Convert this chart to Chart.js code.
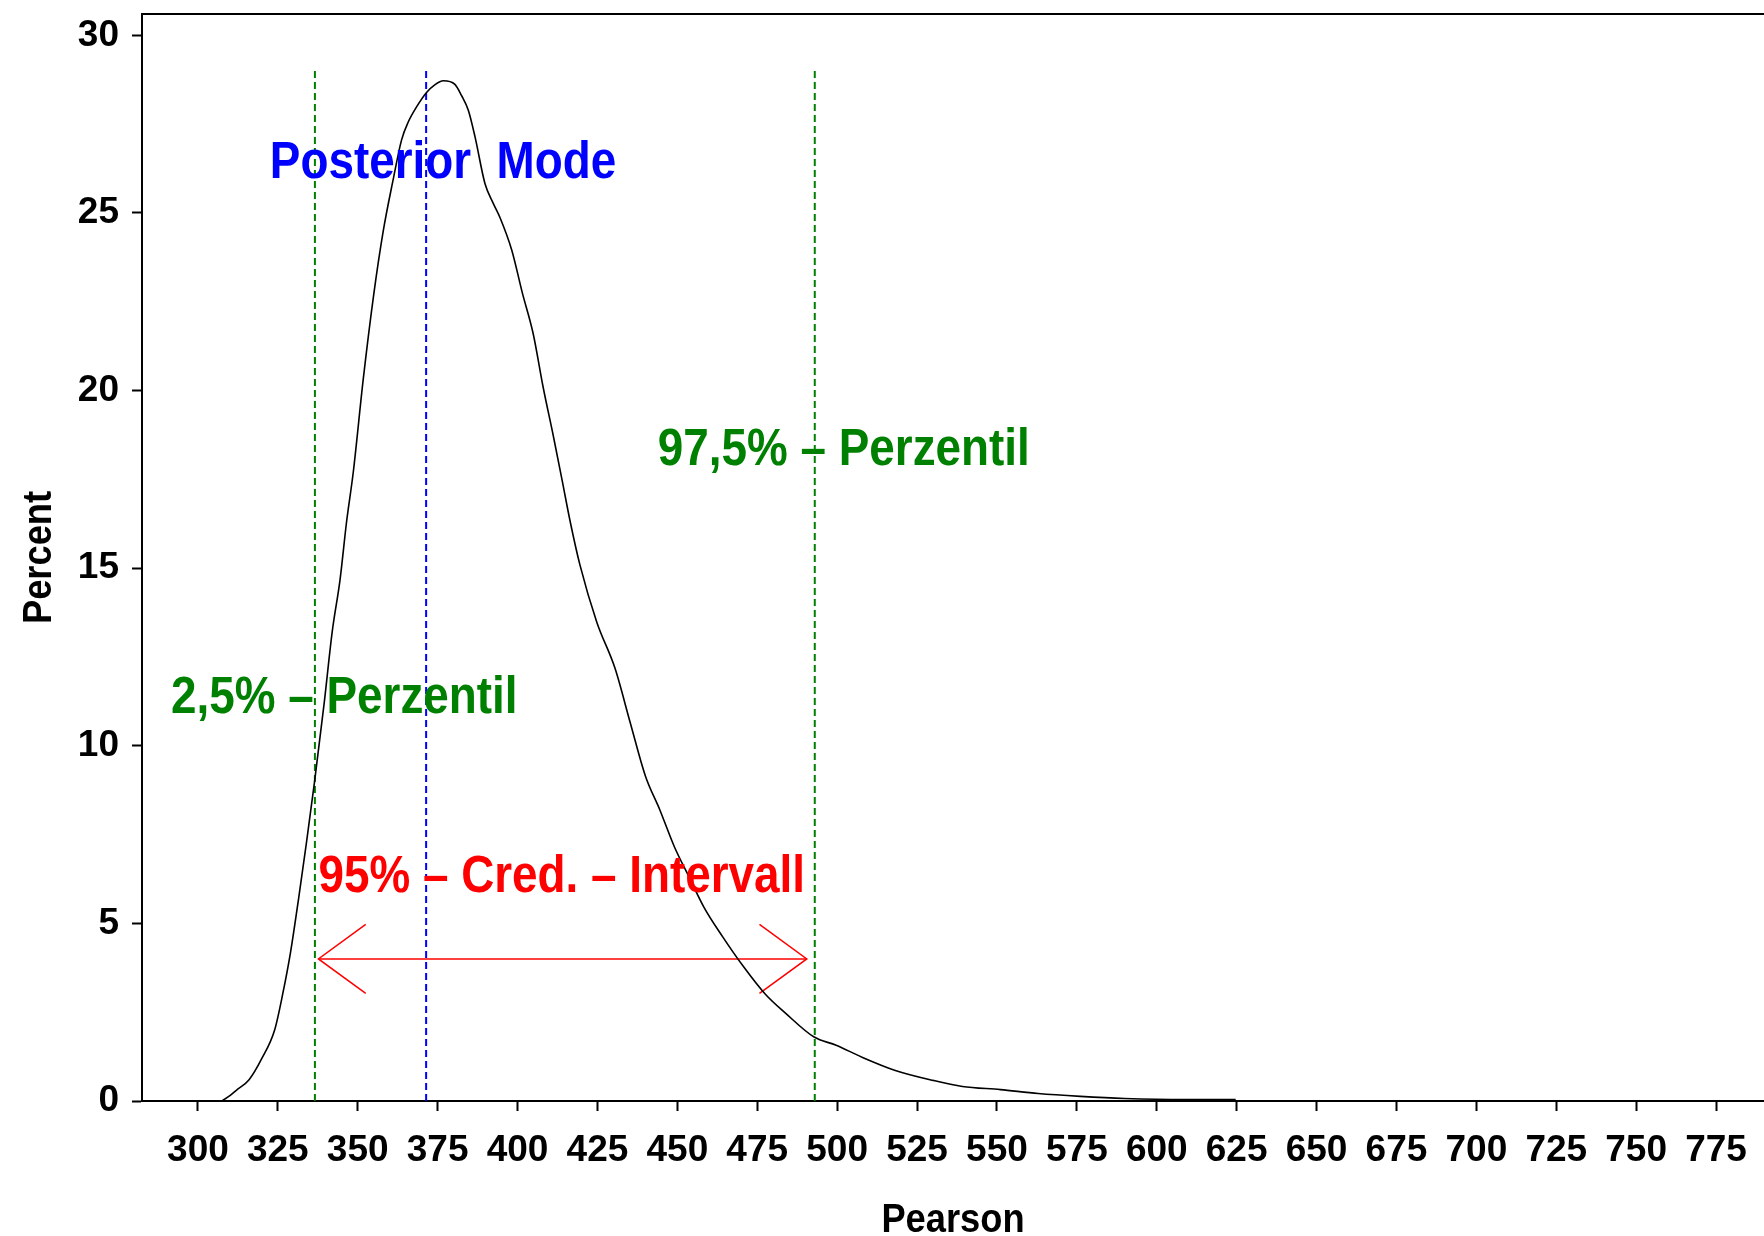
<!DOCTYPE html>
<html>
<head>
<meta charset="utf-8">
<script src="https://cdn.jsdelivr.net/npm/chart.js@4.4.1/dist/chart.umd.min.js"></script>
<style>
  html, body { margin: 0; padding: 0; background: #fff; }
  #wrap { width: 1764px; height: 1236px; position: relative; }
</style>
</head>
<body>
<div id="wrap"><canvas id="posteriorChart"></canvas></div>
<script>
// density curve
const pearson = [307.5, 310, 312, 316, 320, 324, 326.5, 329, 331.5, 334, 336.5, 339.5, 342, 344.5, 346.5,
    348.6, 351.7, 355, 358, 361, 363.7, 365.8, 368.5, 371.6, 374, 376.8, 380.4, 382.5, 384.6, 386.7,
    389.8, 392.4, 394.5, 398.2, 401.5, 404.9, 408, 411.2, 414, 416.5, 419.5, 424.8, 430.5, 435.2, 440,
    444.5, 449.1, 453.7, 458.3, 464.2, 470.8, 477.4, 484, 492.8, 499.7, 507.6, 518.2, 530, 539.2, 551.1,
    562.9, 576.1, 589.9, 608.9, 624.7];
const percent = [0, 0.15, 0.3, 0.6, 1.2, 2.0, 3.0, 4.2, 5.7, 7.3, 9.0, 11.2, 13.2, 14.7, 16.3,
    17.7, 20.3, 22.7, 24.5, 25.9, 27.05, 27.56, 28.0, 28.4, 28.6, 28.72, 28.62, 28.3, 27.89, 27.14,
    25.83, 25.27, 24.87, 23.95, 22.75, 21.6, 20.1, 18.72, 17.45, 16.3, 15.1, 13.48, 12.18, 10.67, 9.15,
    8.2, 7.15, 6.3, 5.46, 4.62, 3.77, 3.02, 2.46, 1.8, 1.57, 1.24, 0.86, 0.58, 0.41, 0.32,
    0.21, 0.13, 0.07, 0.04, 0.04];

const xTicks = [300, 325, 350, 375, 400, 425, 450, 475, 500, 525, 550, 575, 600, 625, 650, 675, 700, 725, 750, 775];
const yTicks = [0, 5, 10, 15, 20, 25, 30];

// reference lines
const lowerPercentile = 336.6;
const posteriorMode = 371.4;
const upperPercentile = 493.0;
const refLineTop = 29;

// credible interval arrow
const arrowY = 4;
const arrowLeft = 337.7;
const arrowRight = 490.5;
const arrowHeadX = 14.8;
const arrowHeadY = 0.97;

// annotations
const noteTexts = ['Posterior  Mode', '97,5% \u2013 Perzentil', '2,5% \u2013 Perzentil', '95% \u2013 Cred. \u2013 Intervall'];
const noteX = [322.5, 443.9, 291.6, 337.7];
const noteY = [26.5, 18.42, 11.43, 6.41];
const noteColors = ['#0000ff', '#008000', '#008000', '#ff0000'];

const FONT = "'Liberation Sans', Arial, sans-serif";

function vline(x, color) {
    return {
        data: [{x: x, y: 0}, {x: x, y: refLineTop}],
        borderColor: color,
        borderWidth: 2,
        borderDash: [7, 4],
        pointRadius: 0,
        tension: 0
    };
}

function redLine(points) {
    return {
        data: points,
        borderColor: '#ff0000',
        borderWidth: 1.5,
        pointRadius: 0,
        tension: 0
    };
}

// squeezed bold text, the original font is narrower and taller than Arial
function drawText(ctx, text, x, y, color, size, rotate) {
    ctx.save();
    ctx.translate(x, y);
    if (rotate) ctx.rotate(-Math.PI / 2);
    ctx.scale(0.955, 1.07);
    ctx.font = 'bold ' + size + 'px ' + FONT;
    ctx.fillStyle = color;
    ctx.textBaseline = 'alphabetic';
    ctx.fillText(text, 0, 0.358 * size);
    ctx.restore();
}

const framePlugin = {
    id: 'frame',
    afterDraw(chart) {
        const ctx = chart.ctx;
        const area = chart.chartArea;
        const xs = chart.scales.x;
        const ys = chart.scales.y;
        ctx.save();
        ctx.strokeStyle = '#000';
        ctx.lineWidth = 2;
        ctx.beginPath();
        ctx.moveTo(area.left - 1, area.top);
        ctx.lineTo(area.right, area.top);
        ctx.stroke();

        ctx.textAlign = 'left';
        noteTexts.forEach(function (t, i) {
            drawText(ctx, t, xs.getPixelForValue(noteX[i]), ys.getPixelForValue(noteY[i]), noteColors[i], 48, false);
        });

        // axis titles
        ctx.textAlign = 'center';
        drawText(ctx, 'Pearson', (area.left + area.right) / 2, area.bottom + 116, '#000', 38, false);
        drawText(ctx, 'Percent', 36, (area.top + area.bottom) / 2, '#000', 38, true);
        ctx.restore();
    }
};

const ctx = document.getElementById('posteriorChart');
new Chart(ctx, {
    type: 'line',
    data: {
        datasets: [
            {
                data: pearson.map(function (v, i) { return {x: v, y: percent[i]}; }),
                borderColor: '#000',
                borderWidth: 1.6,
                pointRadius: 0,
                cubicInterpolationMode: 'monotone'
            },
            vline(lowerPercentile, '#008000'),
            vline(posteriorMode, '#0000ff'),
            vline(upperPercentile, '#008000'),
            redLine([{x: arrowLeft, y: arrowY}, {x: arrowRight, y: arrowY}]),
            redLine([{x: arrowLeft + arrowHeadX, y: arrowY + arrowHeadY}, {x: arrowLeft, y: arrowY}, {x: arrowLeft + arrowHeadX, y: arrowY - arrowHeadY}]),
            redLine([{x: arrowRight - arrowHeadX, y: arrowY + arrowHeadY}, {x: arrowRight, y: arrowY}, {x: arrowRight - arrowHeadX, y: arrowY - arrowHeadY}])
        ]
    },
    options: {
        responsive: true,
        maintainAspectRatio: false,
        animation: false,
        layout: { padding: { top: 14, right: 0, left: 0, bottom: 0 } },
        plugins: {
            legend: { display: false },
            tooltip: { enabled: false }
        },
        scales: {
            x: {
                type: 'linear',
                min: 282.5,
                max: 790,
                afterBuildTicks: function (scale) {
                    scale.ticks = xTicks.map(function (v) { return {value: v}; });
                },
                afterFit: function (scale) {
                    scale.height = 135;
                    scale.paddingLeft = 0;
                    scale.paddingRight = 0;
                },
                grid: { drawOnChartArea: false, drawTicks: true, tickLength: 10, tickWidth: 2, tickColor: '#000' },
                border: { display: true, color: '#000', width: 2 },
                ticks: {
                    autoSkip: false,
                    maxRotation: 0,
                    color: '#000',
                    padding: 18,
                    font: { family: FONT, size: 37, weight: 'bold' },
                    callback: function (v) { return String(v); }
                }
            },
            y: {
                type: 'linear',
                min: 0,
                max: 30.6,
                afterBuildTicks: function (scale) {
                    scale.ticks = yTicks.map(function (v) { return {value: v}; });
                },
                afterFit: function (scale) {
                    scale.width = 142;
                    scale.paddingTop = 0;
                    scale.paddingBottom = 0;
                },
                grid: { drawOnChartArea: false, drawTicks: true, tickLength: 10, tickWidth: 2, tickColor: '#000' },
                border: { display: true, color: '#000', width: 2 },
                ticks: {
                    color: '#000',
                    padding: 13,
                    font: { family: FONT, size: 37, weight: 'bold' },
                    callback: function (v) { return String(v); }
                }
            }
        }
    },
    plugins: [framePlugin]
});
</script>
</body>
</html>
